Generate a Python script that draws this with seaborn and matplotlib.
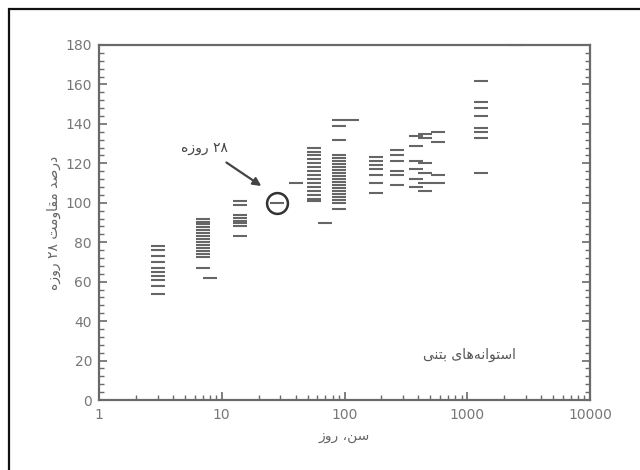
import numpy as np
import pandas as pd
import matplotlib
matplotlib.use("Agg")
import matplotlib.pyplot as plt
from matplotlib.patches import Rectangle
from matplotlib.ticker import MultipleLocator, LogLocator, NullFormatter
import seaborn as sns

# ---- data (age in days, strength as % of 28-day strength) ----
age_3 = [78, 76, 73, 70, 67, 65, 63, 61, 58, 54]
age_7 = [92, 90.5, 89, 87.5, 86, 84.5, 83, 81.5, 80, 78.5, 77, 75.5, 74, 72.5, 67]
age_8 = [62]
age_14 = [101, 99, 94, 92.5, 91, 89.5, 88, 83]
age_28 = [100]
age_40 = [110]
age_56 = [128, 126, 124, 122, 120, 118, 116, 114, 112, 110, 108, 106, 104, 102, 101]
age_69 = [90]
age_91 = [142, 139, 132, 124, 122.5, 121, 119.5, 118, 116.5, 115, 113.5, 112, 110.5,
          109, 107.5, 106, 104.5, 103, 101.5, 100, 97]
age_115 = [142]
age_180 = [123, 121, 119, 117, 114, 110, 105]
age_270 = [127, 124, 121, 116, 114, 109]
age_380 = [134, 129, 121, 117, 112, 108]
age_450 = [135, 133, 120, 115, 110, 106]
age_580 = [136, 131, 114, 110]
age_1300 = [162, 151, 148, 144, 138, 136, 133, 115]
age_2500 = [180]

groups = {3: age_3, 7: age_7, 8: age_8, 14: age_14, 28: age_28, 40: age_40,
          56: age_56, 69: age_69, 91: age_91, 115: age_115, 180: age_180,
          270: age_270, 380: age_380, 450: age_450, 580: age_580,
          1300: age_1300, 2500: age_2500}

x_ticks = [1, 10, 100, 1000, 10000]
x_tick_labels = ["1", "10", "100", "1000", "10000"]
y_ticks = [0, 20, 40, 60, 80, 100, 120, 140, 160, 180]

# Persian texts (presentation forms in visual order)
ylabel_txt = "\uFEE9\uFEAF\uFEED\uFEAD \u06F2\u06F8 \uFE96\uFEE3\uFEED\uFE8E\uFED8\uFEE3 \uFEAA\uFEBB\uFEAD\uFEA9"
xlabel_txt = "\uFEAF\uFEED\uFEAD \u060C\uFEE6\uFEB3"
label28_txt = "\uFEE9\uFEAF\uFEED\uFEAD \u06F2\u06F8"
cyl_txt = "\uFEF0\uFEE8\uFE98\uFE91 \uFEEF\uFE8E\uFEEB\uFEEA\uFEE7\uFE8D\uFEEE\uFE98\uFEB3\uFE8D"

rows = [(a, v) for a, vals in groups.items() for v in vals]
df = pd.DataFrame(rows, columns=["age", "strength"])

sns.set_theme(style="white")
plt.rcParams["font.family"] = ["DejaVu Sans"]

fig = plt.figure(figsize=(6.4, 4.7), dpi=100)
ax = fig.add_axes([99 / 640, 1 - 400 / 470, (590 - 99) / 640, (400 - 45) / 470])

gray = "#6a6a6a"
sns.scatterplot(data=df, x="age", y="strength", marker="_", s=110,
                color="#666666", linewidth=1.5, ax=ax, legend=False)

ax.set_xscale("log")
ax.set_xlim(1, 10000)
ax.set_ylim(0, 180)
ax.set_xticks(x_ticks)
ax.set_xticklabels(x_tick_labels)
ax.xaxis.set_minor_locator(LogLocator(base=10, subs=np.arange(2, 10), numticks=20))
ax.xaxis.set_minor_formatter(NullFormatter())
ax.set_yticks(y_ticks)
ax.yaxis.set_minor_locator(MultipleLocator(4))

for sp in ax.spines.values():
    sp.set_color(gray)
    sp.set_linewidth(1.6)

ax.tick_params(axis="both", which="major", direction="in", length=6, width=1.2,
               colors=gray, labelcolor="#777777", labelsize=10)
ax.tick_params(axis="both", which="minor", direction="in", length=3.5, width=1.0,
               colors=gray)
ax.tick_params(axis="y", which="both", right=True, left=True)
ax.tick_params(axis="x", which="both", top=False, bottom=True)
ax.tick_params(axis="y", pad=5)
ax.tick_params(axis="x", pad=6)

ax.set_xlabel(xlabel_txt, fontsize=10, color="#666666", labelpad=5)
ax.set_ylabel(ylabel_txt, fontsize=10, color="#666666", labelpad=3)

# circled 28-day point and arrow annotation
ax.plot([28], [100], marker="o", markersize=15, markerfacecolor="none",
        markeredgecolor="#333333", markeredgewidth=1.8)
ax.annotate(label28_txt, xy=(21, 108.5), xytext=(7.2, 128),
            fontsize=10, color="#444444", ha="center", va="center",
            arrowprops=dict(arrowstyle="-|>", color="#444444", lw=1.6,
                            shrinkA=6, shrinkB=0, mutation_scale=12))
ax.text(1040, 23, cyl_txt, fontsize=10, color="#555555", ha="center", va="center")

# outer frame of the scanned figure
fig.patches.append(Rectangle((9 / 640, -0.1), 1.2, 1 - 9 / 470 + 0.1,
                             transform=fig.transFigure, fill=False,
                             edgecolor="#111111", linewidth=1.6))

fig.savefig("out.png", dpi=100)
